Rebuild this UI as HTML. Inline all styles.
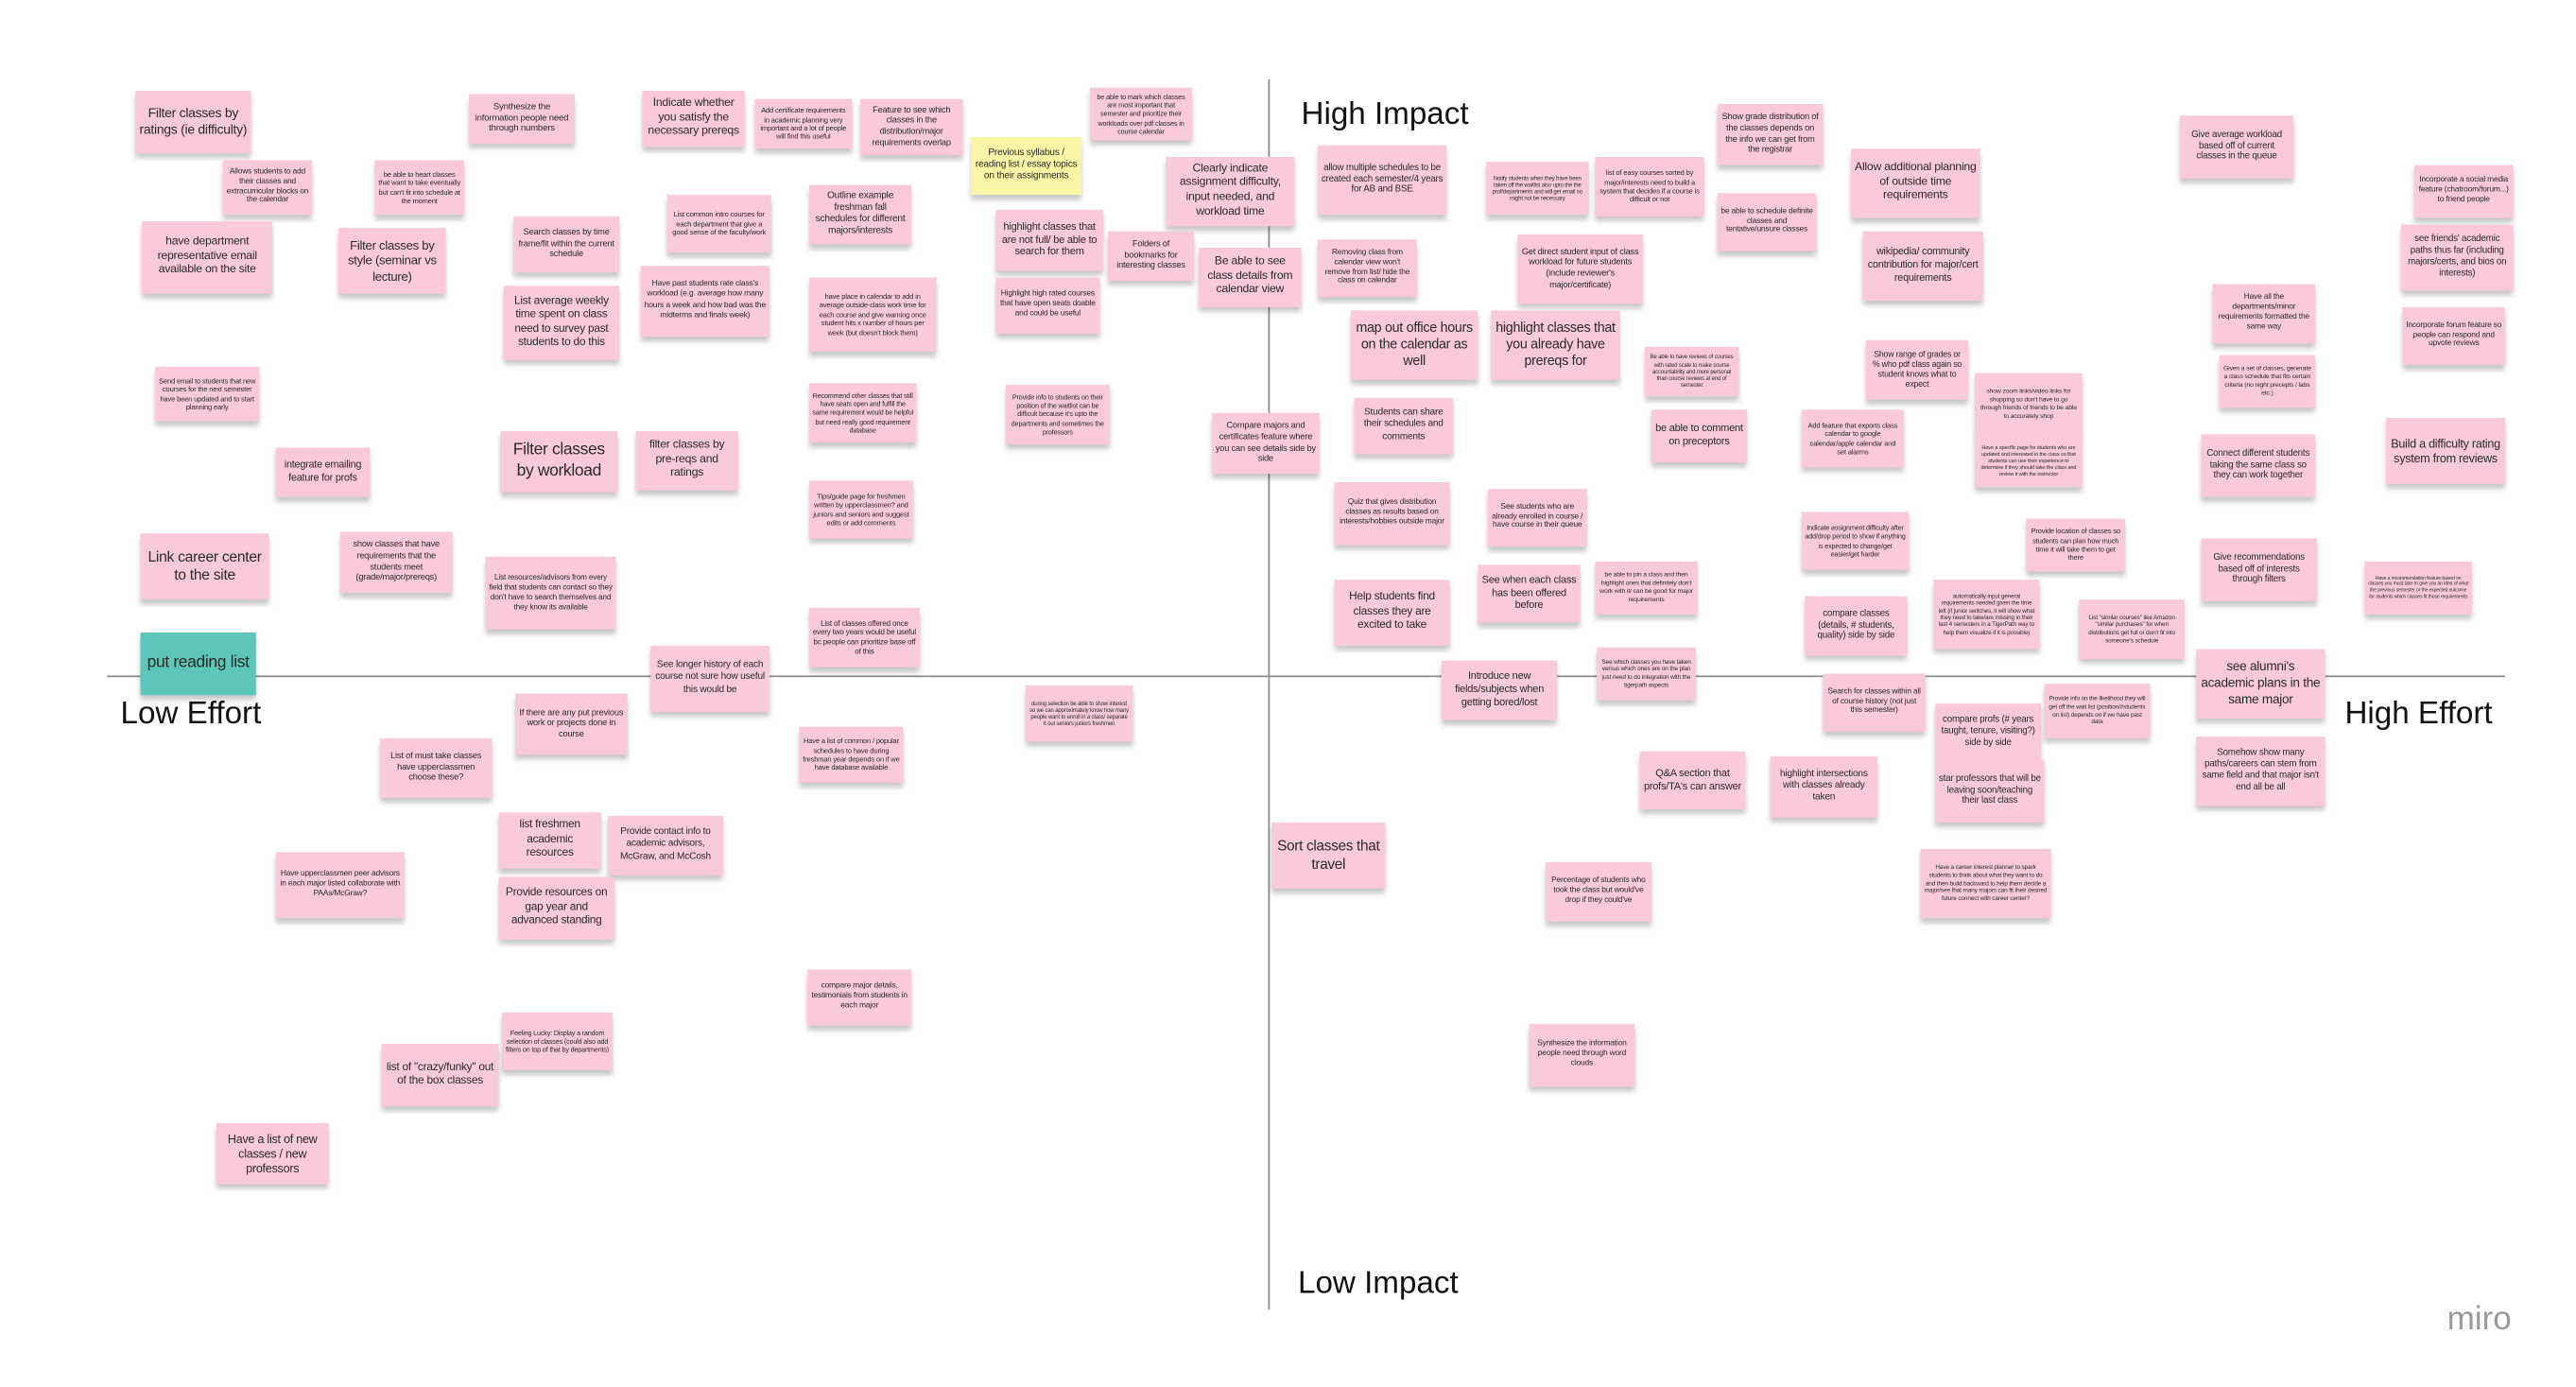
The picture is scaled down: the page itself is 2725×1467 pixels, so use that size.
<!DOCTYPE html>
<html><head><meta charset="utf-8"><style>
html,body{margin:0;padding:0;background:#fff;}
body{width:2725px;height:1467px;overflow:hidden;position:relative;font-family:"Liberation Sans",sans-serif;}
#c{position:absolute;left:0;top:0;width:1560px;height:840px;transform:scale(1.7468);transform-origin:0 0;}
.n{position:absolute;background:#fbc9dc;display:flex;align-items:center;justify-content:center;text-align:center;box-shadow:0 3px 3px rgba(0,0,0,.22);line-height:1.25;color:#2a2a2a;padding:2px;box-sizing:border-box;overflow:hidden;letter-spacing:-0.02em;}
.y{background:#fbf6a6;}
.t{background:#5ec5b9;}
.l{position:absolute;font-size:19px;color:#111;white-space:nowrap;}
.ax{position:absolute;background:#8a8a8a;}
</style></head><body><div id="c">
<div class="ax" style="left:768px;top:48px;width:1px;height:745px"></div>
<div class="ax" style="left:65px;top:409px;width:1452px;height:1px"></div>
<div class="l" style="left:788px;top:59px">High Impact</div>
<div class="l" style="left:73px;top:422px">Low Effort</div>
<div class="l" style="left:1420px;top:422px">High Effort</div>
<div class="l" style="left:786px;top:767px">Low Impact</div>
<div class="l" style="left:1482px;top:788px;color:#999;font-size:20px">miro</div>

<div class="n" style="left:82px;top:55px;width:70px;height:38px;font-size:8px">Filter classes by ratings (ie difficulty)</div>
<div class="n" style="left:284px;top:57px;width:64px;height:30px;font-size:5.5px">Synthesize the information people need through numbers</div>
<div class="n" style="left:389px;top:55px;width:62px;height:34px;font-size:7px">Indicate whether you satisfy the necessary prereqs</div>
<div class="n" style="left:457px;top:60px;width:59px;height:30px;font-size:4.3px">Add certificate requirements in academic planning very important and a lot of people will find this useful</div>
<div class="n" style="left:521px;top:60px;width:62px;height:34px;font-size:5.3px">Feature to see which classes in the distribution/major requirements overlap</div>
<div class="n y" style="left:588px;top:83px;width:67px;height:35px;font-size:5.8px">Previous syllabus / reading list / essay topics on their assignments</div>
<div class="n" style="left:660px;top:53px;width:62px;height:32px;font-size:4.2px">be able to mark which classes are most important that semester and prioritize their workloads over pdf classes in course calendar</div>
<div class="n" style="left:706px;top:95px;width:78px;height:42px;font-size:7px">Clearly indicate assignment difficulty, input needed, and workload time</div>
<div class="n" style="left:135px;top:97px;width:54px;height:33px;font-size:4.8px">Allows students to add their classes and extracurricular blocks on the calendar</div>
<div class="n" style="left:227px;top:97px;width:54px;height:33px;font-size:4.3px">be able to heart classes that want to take eventually but can't fit into schedule at the moment</div>
<div class="n" style="left:86px;top:134px;width:79px;height:44px;font-size:7px">have department representative email available on the site</div>
<div class="n" style="left:205px;top:138px;width:65px;height:40px;font-size:7.5px">Filter classes by style (seminar vs lecture)</div>
<div class="n" style="left:311px;top:131px;width:64px;height:34px;font-size:5.3px">Search classes by time frame/fit within the current schedule</div>
<div class="n" style="left:404px;top:118px;width:63px;height:35px;font-size:4.4px">List common intro courses for each department that give a good sense of the faculty/work</div>
<div class="n" style="left:490px;top:112px;width:62px;height:36px;font-size:5.8px">Outline example freshman fall schedules for different majors/interests</div>
<div class="n" style="left:603px;top:127px;width:65px;height:37px;font-size:6.3px">highlight classes that are not full/ be able to search for them</div>
<div class="n" style="left:671px;top:140px;width:52px;height:30px;font-size:5.3px">Folders of bookmarks for interesting classes</div>
<div class="n" style="left:726px;top:150px;width:62px;height:36px;font-size:7px">Be able to see class details from calendar view</div>
<div class="n" style="left:305px;top:173px;width:70px;height:45px;font-size:6.8px">List average weekly time spent on class need to survey past students to do this</div>
<div class="n" style="left:388px;top:161px;width:78px;height:43px;font-size:4.9px">Have past students rate class's workload (e.g. average how many hours a week and how bad was the midterms and finals week)</div>
<div class="n" style="left:490px;top:168px;width:77px;height:45px;font-size:4.3px">have place in calendar to add in average outside-class work time for each course and give warning once student hits x number of hours per week (but doesn't block them)</div>
<div class="n" style="left:603px;top:168px;width:63px;height:34px;font-size:4.8px">Highlight high rated courses that have open seats doable and could be useful</div>
<div class="n" style="left:94px;top:222px;width:63px;height:33px;font-size:4.3px">Send email to students that new courses for the next semester have been updated and to start planning early</div>
<div class="n" style="left:490px;top:232px;width:65px;height:36px;font-size:4.1px">Recommend other classes that still have seats open and fulfill the same requirement would be helpful but need really good requirement database</div>
<div class="n" style="left:609px;top:233px;width:63px;height:36px;font-size:4.1px">Provide info to students on their position of the waitlist can be difficult because it's upto the departments and sometimes the professors</div>
<div class="n" style="left:734px;top:250px;width:65px;height:37px;font-size:5.3px">Compare majors and certificates feature where you can see details side by side</div>
<div class="n" style="left:167px;top:271px;width:57px;height:30px;font-size:6.2px">integrate emailing feature for profs</div>
<div class="n" style="left:303px;top:261px;width:71px;height:37px;font-size:10px">Filter classes by workload</div>
<div class="n" style="left:385px;top:261px;width:62px;height:36px;font-size:7px">filter classes by pre-reqs and ratings</div>
<div class="n" style="left:490px;top:291px;width:63px;height:35px;font-size:4.3px">Tips/guide page for freshmen written by upperclassmen? and juniors and seniors and suggest edits or add comments</div>
<div class="n" style="left:85px;top:323px;width:78px;height:40px;font-size:9px">Link career center to the site</div>
<div class="n" style="left:206px;top:322px;width:68px;height:37px;font-size:5.3px">show classes that have requirements that the students meet (grade/major/prereqs)</div>
<div class="n" style="left:294px;top:337px;width:79px;height:44px;font-size:4.7px">List resources/advisors from every field that students can contact so they don't have to search themselves and they know its available</div>
<div class="n" style="left:490px;top:368px;width:67px;height:36px;font-size:4.6px">List of classes offered once every two years would be useful bc people can prioritize base off of this</div>
<div class="n t" style="left:85px;top:383px;width:70px;height:38px;font-size:10px">put reading list</div>
<div class="n" style="left:394px;top:391px;width:72px;height:40px;font-size:5.8px">See longer history of each course not sure how useful this would be</div>
<div class="n" style="left:621px;top:415px;width:65px;height:34px;font-size:3.4px">during selection be able to show interest so we can approximately know how many people want to enroll in a class/ separate it out seniors juniors freshmen</div>
<div class="n" style="left:312px;top:420px;width:68px;height:37px;font-size:5.3px">If there are any put previous work or projects done in course</div>
<div class="n" style="left:484px;top:440px;width:63px;height:34px;font-size:4.3px">Have a list of common / popular schedules to have during freshman year depends on if we have database available</div>
<div class="n" style="left:230px;top:447px;width:68px;height:36px;font-size:5.3px">List of must take classes have upperclassmen choose these?</div>
<div class="n" style="left:302px;top:492px;width:62px;height:34px;font-size:6.8px">list freshmen academic resources</div>
<div class="n" style="left:368px;top:494px;width:70px;height:36px;font-size:5.8px">Provide contact info to academic advisors, McGraw, and McCosh</div>
<div class="n" style="left:167px;top:516px;width:78px;height:40px;font-size:4.8px">Have upperclassmen peer advisors in each major listed collaborate with PAAs/McGraw?</div>
<div class="n" style="left:302px;top:531px;width:70px;height:38px;font-size:6.8px">Provide resources on gap year and advanced standing</div>
<div class="n" style="left:489px;top:587px;width:63px;height:34px;font-size:4.8px">compare major details, testimonials from students in each major</div>
<div class="n" style="left:304px;top:613px;width:67px;height:35px;font-size:4.1px">Feeling Lucky: Display a random selection of classes (could also add filters on top of that by departments)</div>
<div class="n" style="left:231px;top:632px;width:71px;height:38px;font-size:6.8px">list of "crazy/funky" out of the box classes</div>
<div class="n" style="left:131px;top:680px;width:68px;height:37px;font-size:7.2px">Have a list of new classes / new professors</div>

<div class="n" style="left:798px;top:88px;width:78px;height:42px;font-size:5.6px">allow multiple schedules to be created each semester/4 years for AB and BSE</div>
<div class="n" style="left:900px;top:98px;width:62px;height:32px;font-size:3.4px">Notify students when they have been taken off the waitlist also upto the the prof/departments and will get email so might not be necessary</div>
<div class="n" style="left:966px;top:95px;width:66px;height:36px;font-size:4.3px">list of easy courses sorted by major/interests need to build a system that decides if a course is difficult or not</div>
<div class="n" style="left:1040px;top:63px;width:64px;height:37px;font-size:5.3px">Show grade distribution of the classes depends on the info we can get from the registrar</div>
<div class="n" style="left:1121px;top:90px;width:78px;height:42px;font-size:7px">Allow additional planning of outside time requirements</div>
<div class="n" style="left:1320px;top:70px;width:69px;height:38px;font-size:5.6px">Give average workload based off of current classes in the queue</div>
<div class="n" style="left:1462px;top:100px;width:60px;height:32px;font-size:4.8px">Incorporate a social media feature (chatroom/forum...) to friend people</div>
<div class="n" style="left:1040px;top:117px;width:60px;height:35px;font-size:4.8px">be able to schedule definite classes and tentative/unsure classes</div>
<div class="n" style="left:798px;top:145px;width:60px;height:35px;font-size:4.8px">Removing class from calendar view won't remove from list/ hide the class on calendar</div>
<div class="n" style="left:919px;top:142px;width:76px;height:42px;font-size:5.3px">Get direct student input of class workload for future students (include reviewer's major/certificate)</div>
<div class="n" style="left:1128px;top:140px;width:73px;height:42px;font-size:6.2px">wikipedia/ community contribution for major/cert requirements</div>
<div class="n" style="left:1454px;top:136px;width:68px;height:40px;font-size:5.6px">see friends' academic paths thus far (including majors/certs, and bios on interests)</div>
<div class="n" style="left:818px;top:188px;width:77px;height:42px;font-size:8.2px">map out office hours on the calendar as well</div>
<div class="n" style="left:903px;top:188px;width:78px;height:42px;font-size:8.2px">highlight classes that you already have prereqs for</div>
<div class="n" style="left:1340px;top:172px;width:62px;height:36px;font-size:4.8px">Have all the departments/minor requirements formatted the same way</div>
<div class="n" style="left:1455px;top:186px;width:62px;height:35px;font-size:4.8px">Incorporate forum feature so people can respond and upvote reviews</div>
<div class="n" style="left:996px;top:210px;width:57px;height:30px;font-size:3.4px">Be able to have reviews of courses with rated scale to make course accountability and more personal than course reviews at end of semester</div>
<div class="n" style="left:1130px;top:206px;width:62px;height:36px;font-size:5px">Show range of grades or % who pdf class again so student knows what to expect</div>
<div class="n" style="left:1196px;top:226px;width:65px;height:38px;font-size:3.9px">show zoom links/video links for shopping so don't have to go through friends of friends to be able to accurately shop</div>
<div class="n" style="left:1344px;top:215px;width:58px;height:32px;font-size:3.9px">Given a set of classes, generate a class schedule that fits certain criteria (no night precepts / labs etc.)</div>
<div class="n" style="left:820px;top:241px;width:60px;height:34px;font-size:5.8px">Students can share their schedules and comments</div>
<div class="n" style="left:1000px;top:248px;width:58px;height:32px;font-size:6.3px">be able to comment on preceptors</div>
<div class="n" style="left:1091px;top:248px;width:62px;height:35px;font-size:4.3px">Add feature that exports class calendar to google calendar/apple calendar and set alarms</div>
<div class="n" style="left:1196px;top:263px;width:65px;height:32px;font-size:3.2px">Have a specific page for students who are updated and interested in the class so that students can use their experience to determine if they should take the class and review it with the instructor</div>
<div class="n" style="left:1445px;top:253px;width:72px;height:40px;font-size:7.2px">Build a difficulty rating system from reviews</div>
<div class="n" style="left:1333px;top:263px;width:69px;height:38px;font-size:5.6px">Connect different students taking the same class so they can work together</div>
<div class="n" style="left:808px;top:292px;width:70px;height:38px;font-size:4.8px">Quiz that gives distribution classes as results based on interests/hobbies outside major</div>
<div class="n" style="left:901px;top:296px;width:60px;height:35px;font-size:4.8px">See students who are already enrolled in course / have course in their queue</div>
<div class="n" style="left:1091px;top:310px;width:65px;height:35px;font-size:4.1px">Indicate assignment difficulty after add/drop period to show if anything is expected to change/get easier/get harder</div>
<div class="n" style="left:1227px;top:314px;width:60px;height:32px;font-size:4.3px">Provide location of classes so students can plan how much time it will take them to get there</div>
<div class="n" style="left:1333px;top:326px;width:70px;height:38px;font-size:5.6px">Give recommendations based off of interests through filters</div>
<div class="n" style="left:1432px;top:340px;width:65px;height:32px;font-size:2.9px">Have a recommendation feature based on classes you must take to give you an idea of what the previous semester or the expected outcome for students which classes fit those requirements</div>
<div class="n" style="left:966px;top:340px;width:62px;height:32px;font-size:3.9px">be able to pin a class and then highlight ones that definitely don't work with it/ can be good for major requirements</div>
<div class="n" style="left:895px;top:342px;width:62px;height:35px;font-size:6.3px">See when each class has been offered before</div>
<div class="n" style="left:808px;top:351px;width:70px;height:40px;font-size:6.8px">Help students find classes they are excited to take</div>
<div class="n" style="left:1093px;top:361px;width:62px;height:36px;font-size:5.6px">compare classes (details, # students, quality) side by side</div>
<div class="n" style="left:1171px;top:351px;width:64px;height:42px;font-size:3.6px">automatically input general requirements needed given the time left (if junior switches, it will show what they need to take/are missing in their last 4 semesters in a TigerPath way to help them visualize if it is possible)</div>
<div class="n" style="left:1259px;top:363px;width:64px;height:36px;font-size:3.7px">List "similar courses" like Amazon "similar purchases" for when distributions get full or don't fit into someone's schedule</div>
<div class="n" style="left:873px;top:400px;width:70px;height:36px;font-size:6.3px">Introduce new fields/subjects when getting bored/lost</div>
<div class="n" style="left:967px;top:392px;width:60px;height:32px;font-size:3.7px">See which classes you have taken versus which ones are on the plan just need to do integration with the tigerpath aspects</div>
<div class="n" style="left:1104px;top:408px;width:62px;height:35px;font-size:4.8px">Search for classes within all of course history (not just this semester)</div>
<div class="n" style="left:1330px;top:393px;width:78px;height:42px;font-size:7.8px">see alumni's academic plans in the same major</div>
<div class="n" style="left:1172px;top:426px;width:64px;height:35px;font-size:5.6px">compare profs (# years taught, tenure, visiting?) side by side</div>
<div class="n" style="left:1238px;top:414px;width:64px;height:33px;font-size:3.7px">Provide info on the likelihood they will get off the wait list (position/#students on list) depends on if we have past data</div>
<div class="n" style="left:993px;top:455px;width:64px;height:35px;font-size:6.3px">Q&amp;A section that profs/TA's can answer</div>
<div class="n" style="left:1072px;top:458px;width:65px;height:37px;font-size:5.8px">highlight intersections with classes already taken</div>
<div class="n" style="left:1172px;top:460px;width:66px;height:38px;font-size:5.6px">star professors that will be leaving soon/teaching their last class</div>
<div class="n" style="left:1330px;top:446px;width:78px;height:42px;font-size:5.6px">Somehow show many paths/careers can stem from same field and that major isn't end all be all</div>
<div class="n" style="left:770px;top:498px;width:69px;height:40px;font-size:8.8px">Sort classes that travel</div>
<div class="n" style="left:936px;top:522px;width:64px;height:36px;font-size:4.8px">Percentage of students who took the class but would've drop if they could've</div>
<div class="n" style="left:1163px;top:514px;width:79px;height:42px;font-size:3.7px">Have a career interest planner to spark students to think about what they want to do and then build backward to help them decide a major/see that many majors can fit their desired future connect with career center?</div>
<div class="n" style="left:926px;top:620px;width:64px;height:38px;font-size:4.8px">Synthesize the information people need through word clouds</div>
</div></body></html>
